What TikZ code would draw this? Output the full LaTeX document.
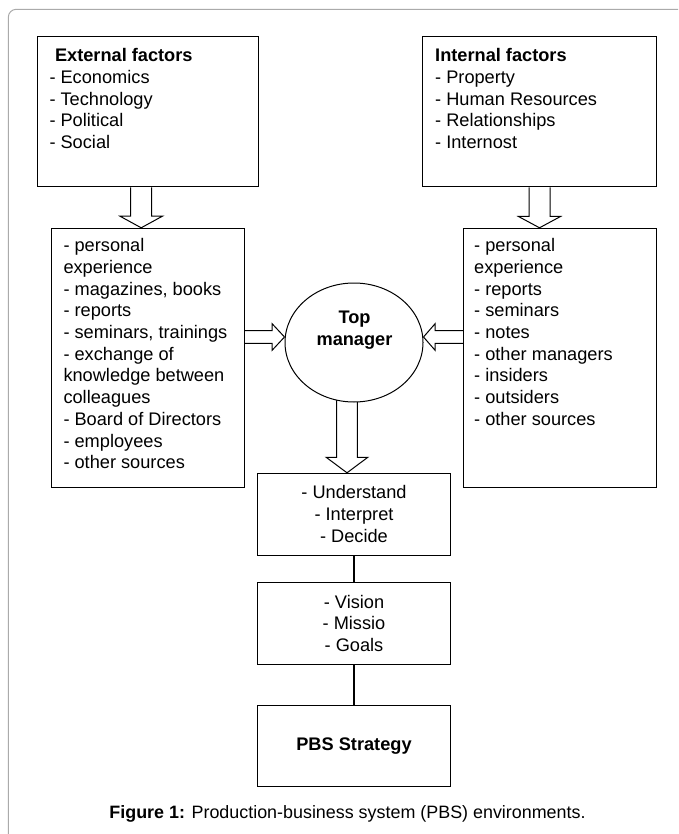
\documentclass[tikz,border=0pt]{standalone}
\usepackage{fontspec}
\setmainfont{Liberation Sans}
\usetikzlibrary{calc,shapes.geometric}
\pgfdeclarelayer{bg}
\pgfsetlayers{bg,main}
\definecolor{framegray}{RGB}{170,170,170}
\newcommand\bxfont{\fontsize{18.2pt}{21.7pt}\selectfont}
\newcommand\capfont{\fontsize{17.9pt}{21.7pt}\selectfont}
\begin{document}
\begin{tikzpicture}[x=1pt,y=-1pt,
  box/.style={draw, line width=1pt, inner sep=0pt},
  cbox/.style={box, font=\bxfont, align=center, minimum width=193.4pt, minimum height=81.7pt},
  txt/.style={font=\bxfont, inner sep=0pt, align=left, anchor=north west},
  barrow/.style={draw, fill=white, line width=1pt, line join=miter},
  link/.style={draw, line width=1.6pt}]
\useasboundingbox (0,0) rectangle (678,834);
\clip (0,0) rectangle (678,834);
\draw[framegray, line width=1pt, rounded corners=8pt] (700,9.3) -- (8.3,9.3) -- (8.3,860);

% boxes
\node[box, minimum width=221pt, minimum height=150pt] (ext) at (147.5,112) {};
\node[box, minimum width=234.4pt, minimum height=150pt] (int) at (539.5,112) {};
\node[box, minimum width=193.3pt, minimum height=258.7pt] (left2) at (147.65,357.65) {};
\node[box, minimum width=193pt, minimum height=258.7pt] (right2) at (559.8,357.65) {};
\node[cbox] (und) at (354,514.15) {- Understand\\- Interpret\\- Decide};
\node[cbox, minimum height=81.3pt] (vis) at (354,623.35) {- Vision\\- Missio\\- Goals};
\node[cbox, font=\bxfont\bfseries] (pbs) at (354,745.85) {PBS Strategy};
\node[draw, ellipse, line width=1pt, fill=white, minimum width=138pt, minimum height=119pt, inner sep=0pt] (tm) at (354,342.5) {};

% texts
\node[txt] (extT) at (49.3,47.7) {\rule{0pt}{14pt}\hspace*{5.5pt}\textbf{External factors}\\- Economics\\- Technology\\- Political\\- Social};
\node[txt] (intT) at (435,47.7) {\rule{0pt}{14pt}\textbf{Internal factors}\\- Property\\- Human Resources\\- Relationships\\- Internost};
\node[txt] (leftT) at (63.3,237.5) {\rule{0pt}{14pt}- personal\\experience\\- magazines, books\\- reports\\- seminars, trainings\\- exchange of\\knowledge between\\colleagues\\- Board of Directors\\- employees\\- other sources};
\node[txt] (rightT) at (474,237.5) {\rule{0pt}{14pt}- personal\\experience\\- reports\\- seminars\\- notes\\- other managers\\- insiders\\- outsiders\\- other sources};
\node[font=\bxfont\bfseries, align=center, inner sep=0pt, anchor=north] (tmT) at (354.5,309.3) {\rule{0pt}{14pt}Top\\manager};

% connectors
\draw[link] (und) -- (vis);
\draw[link] (vis) -- (pbs);

\begin{pgfonlayer}{bg}
\fill[white] (0,0) rectangle (678,834);
% ext -> left2
\draw[barrow] let \p1=([xshift=-6.3pt]ext.south), \p2=(left2.north) in
  (\x1-10.5pt,\y1) -- (\x1-10.5pt,\y2+11.6pt) -- (\x1-21.2pt,\y2+11.6pt) -- (\x1,\y2)
  -- (\x1+21.2pt,\y2+11.6pt) -- (\x1+10.5pt,\y2+11.6pt) -- (\x1+10.5pt,\y1);
% int -> right2
\draw[barrow] let \p1=(int.south), \p2=(right2.north) in
  (\x1-10.5pt,\y1) -- (\x1-10.5pt,\y2+11.3pt) -- (\x1-21pt,\y2+11.3pt) -- (\x1,\y2)
  -- (\x1+21pt,\y2+11.3pt) -- (\x1+10.5pt,\y2+11.3pt) -- (\x1+10.5pt,\y1);
% tm -> und
\draw[barrow] let \p1=([xshift=-7pt]tm.center), \p2=(und.north) in
  (\x1-10.3pt,\y1) -- (\x1-10.3pt,\y2+15.5pt) -- (\x1-20.8pt,\y2+15.5pt) -- (\x1,\y2)
  -- (\x1+20.8pt,\y2+15.5pt) -- (\x1+10.3pt,\y2+15.5pt) -- (\x1+10.3pt,\y1);
% left2 -> tm
\draw[barrow] let \p1=(left2.east), \p2=([yshift=5.5pt]tm.west) in
  (\x1,\y2+6.3pt) -- (\x2-12.4pt,\y2+6.3pt) -- (\x2-12.4pt,\y2+13.3pt) -- (\x2,\y2)
  -- (\x2-12.4pt,\y2-13.3pt) -- (\x2-12.4pt,\y2-6.3pt) -- (\x1,\y2-6.3pt);
% right2 -> tm
\draw[barrow] let \p1=(right2.west), \p2=([yshift=5.5pt]tm.east) in
  (\x1,\y2+6.3pt) -- (\x2+11.6pt,\y2+6.3pt) -- (\x2+11.6pt,\y2+13.3pt) -- (\x2,\y2)
  -- (\x2+11.6pt,\y2-13.3pt) -- (\x2+11.6pt,\y2-6.3pt) -- (\x1,\y2-6.3pt);
\end{pgfonlayer}

% caption
\node[anchor=base, font=\capfont, inner sep=0pt] (cap) at (347.5,818) {\textbf{Figure 1:} Production-business system (PBS) environments.};
\end{tikzpicture}
\end{document}
